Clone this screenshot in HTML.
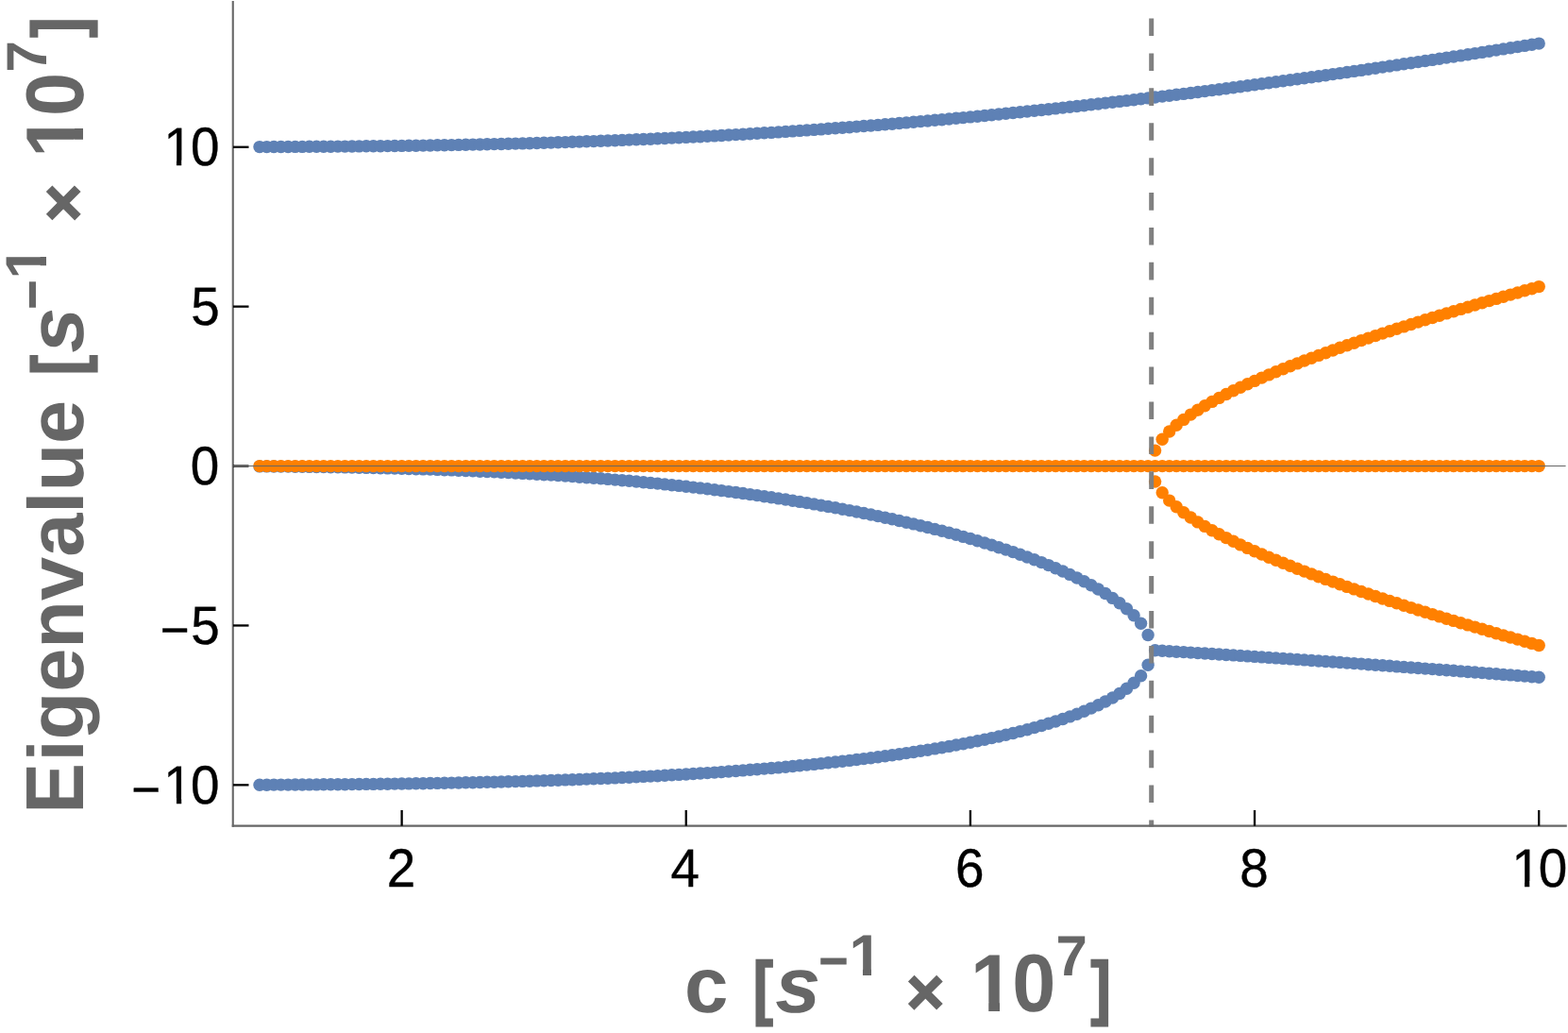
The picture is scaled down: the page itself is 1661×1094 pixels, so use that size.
<!DOCTYPE html>
<html lang="en">
<head>
<meta charset="utf-8">
<title>Eigenvalue plot</title>
<style>
html,body{margin:0;padding:0;background:#fff;}
body{width:1661px;height:1094px;overflow:hidden;}
svg{display:block;}
text{white-space:pre;text-rendering:geometricPrecision;}
</style>
</head>
<body>
<svg width="1661" height="1094" viewBox="0 0 1661 1094" role="img" aria-label="Eigenvalue [s−1 × 10^7] versus c [s−1 × 10^7]">
<rect width="1661" height="1094" fill="#ffffff"/>
<defs>
<clipPath id="k1"><rect x="-400" y="-200" width="1200" height="194.73"/><rect x="14.18" y="-6.27" width="5.46" height="11.27"/><rect x="31.52" y="-6.27" width="28.34" height="46.27"/></clipPath>
<clipPath id="k2"><rect x="-400" y="-200" width="1200" height="194.73"/><rect x="49.82" y="-6.27" width="5.46" height="11.27"/><rect x="67.16" y="-6.27" width="28.34" height="46.27"/></clipPath>
<clipPath id="k3"><rect x="-400" y="-200" width="1200" height="194.73"/><rect x="14.18" y="-6.27" width="5.46" height="11.27"/><rect x="31.42" y="-6.27" width="28.34" height="46.27"/></clipPath>
<clipPath id="k4"><rect x="-400" y="-200" width="1200" height="192.88"/><rect x="13.8" y="-8.12" width="8.63" height="13.12"/></clipPath>
<clipPath id="k5"><rect x="-400" y="-200" width="1200" height="190.16"/><rect x="20.01" y="-10.84" width="12.28" height="15.84"/><rect x="48.98" y="-10.84" width="42.19" height="50.84"/></clipPath>
<clipPath id="k6"><rect x="-400" y="-200" width="1200" height="192.88"/><rect x="13.8" y="-8.12" width="8.63" height="13.12"/></clipPath>
<clipPath id="k7"><rect x="-400" y="-200" width="1200" height="190.16"/><rect x="20.01" y="-10.84" width="12.28" height="15.84"/><rect x="48.98" y="-10.84" width="42.19" height="50.84"/></clipPath>
</defs>
<g fill="#5E81B5">
<circle cx="275.0" cy="155.6" r="6.7"/>
<circle cx="275.0" cy="831.2" r="6.7"/>
<circle cx="275.0" cy="493.9" r="6.7"/>
<circle cx="282.6" cy="155.6" r="6.7"/>
<circle cx="282.6" cy="831.2" r="6.7"/>
<circle cx="282.6" cy="493.9" r="6.7"/>
<circle cx="290.1" cy="155.5" r="6.7"/>
<circle cx="290.1" cy="831.1" r="6.7"/>
<circle cx="290.1" cy="494.0" r="6.7"/>
<circle cx="297.6" cy="155.5" r="6.7"/>
<circle cx="297.6" cy="831.1" r="6.7"/>
<circle cx="297.6" cy="494.1" r="6.7"/>
<circle cx="305.2" cy="155.5" r="6.7"/>
<circle cx="305.2" cy="831.1" r="6.7"/>
<circle cx="305.2" cy="494.1" r="6.7"/>
<circle cx="312.7" cy="155.4" r="6.7"/>
<circle cx="312.7" cy="831.0" r="6.7"/>
<circle cx="312.7" cy="494.2" r="6.7"/>
<circle cx="320.2" cy="155.4" r="6.7"/>
<circle cx="320.2" cy="831.0" r="6.7"/>
<circle cx="320.2" cy="494.3" r="6.7"/>
<circle cx="327.7" cy="155.3" r="6.7"/>
<circle cx="327.7" cy="830.9" r="6.7"/>
<circle cx="327.7" cy="494.4" r="6.7"/>
<circle cx="335.3" cy="155.3" r="6.7"/>
<circle cx="335.3" cy="830.9" r="6.7"/>
<circle cx="335.3" cy="494.5" r="6.7"/>
<circle cx="342.8" cy="155.2" r="6.7"/>
<circle cx="342.8" cy="830.8" r="6.7"/>
<circle cx="342.8" cy="494.6" r="6.7"/>
<circle cx="350.3" cy="155.2" r="6.7"/>
<circle cx="350.3" cy="830.8" r="6.7"/>
<circle cx="350.3" cy="494.7" r="6.7"/>
<circle cx="357.9" cy="155.1" r="6.7"/>
<circle cx="357.9" cy="830.7" r="6.7"/>
<circle cx="357.9" cy="494.8" r="6.7"/>
<circle cx="365.4" cy="155.1" r="6.7"/>
<circle cx="365.4" cy="830.7" r="6.7"/>
<circle cx="365.4" cy="494.9" r="6.7"/>
<circle cx="372.9" cy="155.0" r="6.7"/>
<circle cx="372.9" cy="830.6" r="6.7"/>
<circle cx="372.9" cy="495.1" r="6.7"/>
<circle cx="380.4" cy="154.9" r="6.7"/>
<circle cx="380.4" cy="830.5" r="6.7"/>
<circle cx="380.4" cy="495.2" r="6.7"/>
<circle cx="388.0" cy="154.8" r="6.7"/>
<circle cx="388.0" cy="830.4" r="6.7"/>
<circle cx="388.0" cy="495.4" r="6.7"/>
<circle cx="395.5" cy="154.8" r="6.7"/>
<circle cx="395.5" cy="830.4" r="6.7"/>
<circle cx="395.5" cy="495.5" r="6.7"/>
<circle cx="403.0" cy="154.7" r="6.7"/>
<circle cx="403.0" cy="830.3" r="6.7"/>
<circle cx="403.0" cy="495.7" r="6.7"/>
<circle cx="410.6" cy="154.6" r="6.7"/>
<circle cx="410.6" cy="830.2" r="6.7"/>
<circle cx="410.6" cy="495.9" r="6.7"/>
<circle cx="418.1" cy="154.5" r="6.7"/>
<circle cx="418.1" cy="830.1" r="6.7"/>
<circle cx="418.1" cy="496.1" r="6.7"/>
<circle cx="425.6" cy="154.4" r="6.7"/>
<circle cx="425.6" cy="830.0" r="6.7"/>
<circle cx="425.6" cy="496.3" r="6.7"/>
<circle cx="433.1" cy="154.3" r="6.7"/>
<circle cx="433.1" cy="829.9" r="6.7"/>
<circle cx="433.1" cy="496.5" r="6.7"/>
<circle cx="440.7" cy="154.2" r="6.7"/>
<circle cx="440.7" cy="829.8" r="6.7"/>
<circle cx="440.7" cy="496.7" r="6.7"/>
<circle cx="448.2" cy="154.1" r="6.7"/>
<circle cx="448.2" cy="829.7" r="6.7"/>
<circle cx="448.2" cy="496.9" r="6.7"/>
<circle cx="455.7" cy="154.0" r="6.7"/>
<circle cx="455.7" cy="829.5" r="6.7"/>
<circle cx="455.7" cy="497.1" r="6.7"/>
<circle cx="463.3" cy="153.8" r="6.7"/>
<circle cx="463.3" cy="829.4" r="6.7"/>
<circle cx="463.3" cy="497.4" r="6.7"/>
<circle cx="470.8" cy="153.7" r="6.7"/>
<circle cx="470.8" cy="829.3" r="6.7"/>
<circle cx="470.8" cy="497.7" r="6.7"/>
<circle cx="478.3" cy="153.6" r="6.7"/>
<circle cx="478.3" cy="829.1" r="6.7"/>
<circle cx="478.3" cy="497.9" r="6.7"/>
<circle cx="485.8" cy="153.4" r="6.7"/>
<circle cx="485.8" cy="829.0" r="6.7"/>
<circle cx="485.8" cy="498.2" r="6.7"/>
<circle cx="493.4" cy="153.3" r="6.7"/>
<circle cx="493.4" cy="828.8" r="6.7"/>
<circle cx="493.4" cy="498.5" r="6.7"/>
<circle cx="500.9" cy="153.1" r="6.7"/>
<circle cx="500.9" cy="828.7" r="6.7"/>
<circle cx="500.9" cy="498.8" r="6.7"/>
<circle cx="508.4" cy="153.0" r="6.7"/>
<circle cx="508.4" cy="828.5" r="6.7"/>
<circle cx="508.4" cy="499.2" r="6.7"/>
<circle cx="516.0" cy="152.8" r="6.7"/>
<circle cx="516.0" cy="828.3" r="6.7"/>
<circle cx="516.0" cy="499.5" r="6.7"/>
<circle cx="523.5" cy="152.6" r="6.7"/>
<circle cx="523.5" cy="828.2" r="6.7"/>
<circle cx="523.5" cy="499.8" r="6.7"/>
<circle cx="531.0" cy="152.5" r="6.7"/>
<circle cx="531.0" cy="828.0" r="6.7"/>
<circle cx="531.0" cy="500.2" r="6.7"/>
<circle cx="538.5" cy="152.3" r="6.7"/>
<circle cx="538.5" cy="827.8" r="6.7"/>
<circle cx="538.5" cy="500.6" r="6.7"/>
<circle cx="546.1" cy="152.1" r="6.7"/>
<circle cx="546.1" cy="827.6" r="6.7"/>
<circle cx="546.1" cy="501.0" r="6.7"/>
<circle cx="553.6" cy="151.9" r="6.7"/>
<circle cx="553.6" cy="827.4" r="6.7"/>
<circle cx="553.6" cy="501.4" r="6.7"/>
<circle cx="561.1" cy="151.7" r="6.7"/>
<circle cx="561.1" cy="827.2" r="6.7"/>
<circle cx="561.1" cy="501.8" r="6.7"/>
<circle cx="568.7" cy="151.5" r="6.7"/>
<circle cx="568.7" cy="826.9" r="6.7"/>
<circle cx="568.7" cy="502.2" r="6.7"/>
<circle cx="576.2" cy="151.3" r="6.7"/>
<circle cx="576.2" cy="826.7" r="6.7"/>
<circle cx="576.2" cy="502.7" r="6.7"/>
<circle cx="583.7" cy="151.1" r="6.7"/>
<circle cx="583.7" cy="826.5" r="6.7"/>
<circle cx="583.7" cy="503.1" r="6.7"/>
<circle cx="591.2" cy="150.8" r="6.7"/>
<circle cx="591.2" cy="826.2" r="6.7"/>
<circle cx="591.2" cy="503.6" r="6.7"/>
<circle cx="598.8" cy="150.6" r="6.7"/>
<circle cx="598.8" cy="825.9" r="6.7"/>
<circle cx="598.8" cy="504.1" r="6.7"/>
<circle cx="606.3" cy="150.3" r="6.7"/>
<circle cx="606.3" cy="825.7" r="6.7"/>
<circle cx="606.3" cy="504.6" r="6.7"/>
<circle cx="613.8" cy="150.1" r="6.7"/>
<circle cx="613.8" cy="825.4" r="6.7"/>
<circle cx="613.8" cy="505.2" r="6.7"/>
<circle cx="621.4" cy="149.8" r="6.7"/>
<circle cx="621.4" cy="825.1" r="6.7"/>
<circle cx="621.4" cy="505.7" r="6.7"/>
<circle cx="628.9" cy="149.6" r="6.7"/>
<circle cx="628.9" cy="824.8" r="6.7"/>
<circle cx="628.9" cy="506.3" r="6.7"/>
<circle cx="636.4" cy="149.3" r="6.7"/>
<circle cx="636.4" cy="824.5" r="6.7"/>
<circle cx="636.4" cy="506.8" r="6.7"/>
<circle cx="643.9" cy="149.0" r="6.7"/>
<circle cx="643.9" cy="824.2" r="6.7"/>
<circle cx="643.9" cy="507.4" r="6.7"/>
<circle cx="651.5" cy="148.7" r="6.7"/>
<circle cx="651.5" cy="823.9" r="6.7"/>
<circle cx="651.5" cy="508.1" r="6.7"/>
<circle cx="659.0" cy="148.4" r="6.7"/>
<circle cx="659.0" cy="823.5" r="6.7"/>
<circle cx="659.0" cy="508.7" r="6.7"/>
<circle cx="666.5" cy="148.1" r="6.7"/>
<circle cx="666.5" cy="823.2" r="6.7"/>
<circle cx="666.5" cy="509.3" r="6.7"/>
<circle cx="674.1" cy="147.8" r="6.7"/>
<circle cx="674.1" cy="822.8" r="6.7"/>
<circle cx="674.1" cy="510.0" r="6.7"/>
<circle cx="681.6" cy="147.5" r="6.7"/>
<circle cx="681.6" cy="822.4" r="6.7"/>
<circle cx="681.6" cy="510.7" r="6.7"/>
<circle cx="689.1" cy="147.2" r="6.7"/>
<circle cx="689.1" cy="822.1" r="6.7"/>
<circle cx="689.1" cy="511.4" r="6.7"/>
<circle cx="696.6" cy="146.8" r="6.7"/>
<circle cx="696.6" cy="821.7" r="6.7"/>
<circle cx="696.6" cy="512.1" r="6.7"/>
<circle cx="704.2" cy="146.5" r="6.7"/>
<circle cx="704.2" cy="821.3" r="6.7"/>
<circle cx="704.2" cy="512.9" r="6.7"/>
<circle cx="711.7" cy="146.1" r="6.7"/>
<circle cx="711.7" cy="820.8" r="6.7"/>
<circle cx="711.7" cy="513.7" r="6.7"/>
<circle cx="719.2" cy="145.8" r="6.7"/>
<circle cx="719.2" cy="820.4" r="6.7"/>
<circle cx="719.2" cy="514.4" r="6.7"/>
<circle cx="726.8" cy="145.4" r="6.7"/>
<circle cx="726.8" cy="820.0" r="6.7"/>
<circle cx="726.8" cy="515.3" r="6.7"/>
<circle cx="734.3" cy="145.0" r="6.7"/>
<circle cx="734.3" cy="819.5" r="6.7"/>
<circle cx="734.3" cy="516.1" r="6.7"/>
<circle cx="741.8" cy="144.7" r="6.7"/>
<circle cx="741.8" cy="819.0" r="6.7"/>
<circle cx="741.8" cy="516.9" r="6.7"/>
<circle cx="749.3" cy="144.3" r="6.7"/>
<circle cx="749.3" cy="818.6" r="6.7"/>
<circle cx="749.3" cy="517.8" r="6.7"/>
<circle cx="756.9" cy="143.9" r="6.7"/>
<circle cx="756.9" cy="818.1" r="6.7"/>
<circle cx="756.9" cy="518.7" r="6.7"/>
<circle cx="764.4" cy="143.5" r="6.7"/>
<circle cx="764.4" cy="817.6" r="6.7"/>
<circle cx="764.4" cy="519.6" r="6.7"/>
<circle cx="771.9" cy="143.0" r="6.7"/>
<circle cx="771.9" cy="817.0" r="6.7"/>
<circle cx="771.9" cy="520.6" r="6.7"/>
<circle cx="779.5" cy="142.6" r="6.7"/>
<circle cx="779.5" cy="816.5" r="6.7"/>
<circle cx="779.5" cy="521.5" r="6.7"/>
<circle cx="787.0" cy="142.2" r="6.7"/>
<circle cx="787.0" cy="815.9" r="6.7"/>
<circle cx="787.0" cy="522.5" r="6.7"/>
<circle cx="794.5" cy="141.7" r="6.7"/>
<circle cx="794.5" cy="815.3" r="6.7"/>
<circle cx="794.5" cy="523.6" r="6.7"/>
<circle cx="802.0" cy="141.3" r="6.7"/>
<circle cx="802.0" cy="814.8" r="6.7"/>
<circle cx="802.0" cy="524.6" r="6.7"/>
<circle cx="809.6" cy="140.8" r="6.7"/>
<circle cx="809.6" cy="814.1" r="6.7"/>
<circle cx="809.6" cy="525.7" r="6.7"/>
<circle cx="817.1" cy="140.4" r="6.7"/>
<circle cx="817.1" cy="813.5" r="6.7"/>
<circle cx="817.1" cy="526.8" r="6.7"/>
<circle cx="824.6" cy="139.9" r="6.7"/>
<circle cx="824.6" cy="812.9" r="6.7"/>
<circle cx="824.6" cy="527.9" r="6.7"/>
<circle cx="832.2" cy="139.4" r="6.7"/>
<circle cx="832.2" cy="812.2" r="6.7"/>
<circle cx="832.2" cy="529.0" r="6.7"/>
<circle cx="839.7" cy="138.9" r="6.7"/>
<circle cx="839.7" cy="811.5" r="6.7"/>
<circle cx="839.7" cy="530.2" r="6.7"/>
<circle cx="847.2" cy="138.4" r="6.7"/>
<circle cx="847.2" cy="810.8" r="6.7"/>
<circle cx="847.2" cy="531.4" r="6.7"/>
<circle cx="854.7" cy="137.9" r="6.7"/>
<circle cx="854.7" cy="810.1" r="6.7"/>
<circle cx="854.7" cy="532.6" r="6.7"/>
<circle cx="862.3" cy="137.4" r="6.7"/>
<circle cx="862.3" cy="809.4" r="6.7"/>
<circle cx="862.3" cy="533.9" r="6.7"/>
<circle cx="869.8" cy="136.9" r="6.7"/>
<circle cx="869.8" cy="808.6" r="6.7"/>
<circle cx="869.8" cy="535.2" r="6.7"/>
<circle cx="877.3" cy="136.3" r="6.7"/>
<circle cx="877.3" cy="807.8" r="6.7"/>
<circle cx="877.3" cy="536.5" r="6.7"/>
<circle cx="884.9" cy="135.8" r="6.7"/>
<circle cx="884.9" cy="807.0" r="6.7"/>
<circle cx="884.9" cy="537.8" r="6.7"/>
<circle cx="892.4" cy="135.2" r="6.7"/>
<circle cx="892.4" cy="806.2" r="6.7"/>
<circle cx="892.4" cy="539.2" r="6.7"/>
<circle cx="899.9" cy="134.7" r="6.7"/>
<circle cx="899.9" cy="805.4" r="6.7"/>
<circle cx="899.9" cy="540.6" r="6.7"/>
<circle cx="907.4" cy="134.1" r="6.7"/>
<circle cx="907.4" cy="804.5" r="6.7"/>
<circle cx="907.4" cy="542.0" r="6.7"/>
<circle cx="915.0" cy="133.5" r="6.7"/>
<circle cx="915.0" cy="803.6" r="6.7"/>
<circle cx="915.0" cy="543.5" r="6.7"/>
<circle cx="922.5" cy="133.0" r="6.7"/>
<circle cx="922.5" cy="802.7" r="6.7"/>
<circle cx="922.5" cy="545.0" r="6.7"/>
<circle cx="930.0" cy="132.4" r="6.7"/>
<circle cx="930.0" cy="801.7" r="6.7"/>
<circle cx="930.0" cy="546.6" r="6.7"/>
<circle cx="937.6" cy="131.8" r="6.7"/>
<circle cx="937.6" cy="800.7" r="6.7"/>
<circle cx="937.6" cy="548.2" r="6.7"/>
<circle cx="945.1" cy="131.2" r="6.7"/>
<circle cx="945.1" cy="799.7" r="6.7"/>
<circle cx="945.1" cy="549.8" r="6.7"/>
<circle cx="952.6" cy="130.5" r="6.7"/>
<circle cx="952.6" cy="798.7" r="6.7"/>
<circle cx="952.6" cy="551.5" r="6.7"/>
<circle cx="960.1" cy="129.9" r="6.7"/>
<circle cx="960.1" cy="797.6" r="6.7"/>
<circle cx="960.1" cy="553.2" r="6.7"/>
<circle cx="967.7" cy="129.3" r="6.7"/>
<circle cx="967.7" cy="796.5" r="6.7"/>
<circle cx="967.7" cy="554.9" r="6.7"/>
<circle cx="975.2" cy="128.6" r="6.7"/>
<circle cx="975.2" cy="795.3" r="6.7"/>
<circle cx="975.2" cy="556.7" r="6.7"/>
<circle cx="982.7" cy="128.0" r="6.7"/>
<circle cx="982.7" cy="794.2" r="6.7"/>
<circle cx="982.7" cy="558.5" r="6.7"/>
<circle cx="990.3" cy="127.3" r="6.7"/>
<circle cx="990.3" cy="792.9" r="6.7"/>
<circle cx="990.3" cy="560.4" r="6.7"/>
<circle cx="997.8" cy="126.7" r="6.7"/>
<circle cx="997.8" cy="791.7" r="6.7"/>
<circle cx="997.8" cy="562.3" r="6.7"/>
<circle cx="1005.3" cy="126.0" r="6.7"/>
<circle cx="1005.3" cy="790.4" r="6.7"/>
<circle cx="1005.3" cy="564.3" r="6.7"/>
<circle cx="1012.8" cy="125.3" r="6.7"/>
<circle cx="1012.8" cy="789.0" r="6.7"/>
<circle cx="1012.8" cy="566.3" r="6.7"/>
<circle cx="1020.4" cy="124.6" r="6.7"/>
<circle cx="1020.4" cy="787.7" r="6.7"/>
<circle cx="1020.4" cy="568.4" r="6.7"/>
<circle cx="1027.9" cy="123.9" r="6.7"/>
<circle cx="1027.9" cy="786.2" r="6.7"/>
<circle cx="1027.9" cy="570.5" r="6.7"/>
<circle cx="1035.4" cy="123.2" r="6.7"/>
<circle cx="1035.4" cy="784.7" r="6.7"/>
<circle cx="1035.4" cy="572.7" r="6.7"/>
<circle cx="1043.0" cy="122.5" r="6.7"/>
<circle cx="1043.0" cy="783.2" r="6.7"/>
<circle cx="1043.0" cy="575.0" r="6.7"/>
<circle cx="1050.5" cy="121.8" r="6.7"/>
<circle cx="1050.5" cy="781.6" r="6.7"/>
<circle cx="1050.5" cy="577.3" r="6.7"/>
<circle cx="1058.0" cy="121.0" r="6.7"/>
<circle cx="1058.0" cy="780.0" r="6.7"/>
<circle cx="1058.0" cy="579.7" r="6.7"/>
<circle cx="1065.5" cy="120.3" r="6.7"/>
<circle cx="1065.5" cy="778.3" r="6.7"/>
<circle cx="1065.5" cy="582.1" r="6.7"/>
<circle cx="1073.1" cy="119.5" r="6.7"/>
<circle cx="1073.1" cy="776.5" r="6.7"/>
<circle cx="1073.1" cy="584.6" r="6.7"/>
<circle cx="1080.6" cy="118.8" r="6.7"/>
<circle cx="1080.6" cy="774.6" r="6.7"/>
<circle cx="1080.6" cy="587.3" r="6.7"/>
<circle cx="1088.1" cy="118.0" r="6.7"/>
<circle cx="1088.1" cy="772.7" r="6.7"/>
<circle cx="1088.1" cy="590.0" r="6.7"/>
<circle cx="1095.7" cy="117.3" r="6.7"/>
<circle cx="1095.7" cy="770.6" r="6.7"/>
<circle cx="1095.7" cy="592.7" r="6.7"/>
<circle cx="1103.2" cy="116.5" r="6.7"/>
<circle cx="1103.2" cy="768.5" r="6.7"/>
<circle cx="1103.2" cy="595.6" r="6.7"/>
<circle cx="1110.7" cy="115.7" r="6.7"/>
<circle cx="1110.7" cy="766.3" r="6.7"/>
<circle cx="1110.7" cy="598.6" r="6.7"/>
<circle cx="1118.2" cy="114.9" r="6.7"/>
<circle cx="1118.2" cy="764.0" r="6.7"/>
<circle cx="1118.2" cy="601.8" r="6.7"/>
<circle cx="1125.8" cy="114.1" r="6.7"/>
<circle cx="1125.8" cy="761.5" r="6.7"/>
<circle cx="1125.8" cy="605.0" r="6.7"/>
<circle cx="1133.3" cy="113.3" r="6.7"/>
<circle cx="1133.3" cy="758.9" r="6.7"/>
<circle cx="1133.3" cy="608.4" r="6.7"/>
<circle cx="1140.8" cy="112.5" r="6.7"/>
<circle cx="1140.8" cy="756.2" r="6.7"/>
<circle cx="1140.8" cy="612.0" r="6.7"/>
<circle cx="1148.4" cy="111.7" r="6.7"/>
<circle cx="1148.4" cy="753.2" r="6.7"/>
<circle cx="1148.4" cy="615.8" r="6.7"/>
<circle cx="1155.9" cy="110.8" r="6.7"/>
<circle cx="1155.9" cy="750.1" r="6.7"/>
<circle cx="1155.9" cy="619.7" r="6.7"/>
<circle cx="1163.4" cy="110.0" r="6.7"/>
<circle cx="1163.4" cy="746.7" r="6.7"/>
<circle cx="1163.4" cy="624.0" r="6.7"/>
<circle cx="1170.9" cy="109.1" r="6.7"/>
<circle cx="1170.9" cy="743.0" r="6.7"/>
<circle cx="1170.9" cy="628.5" r="6.7"/>
<circle cx="1178.5" cy="108.3" r="6.7"/>
<circle cx="1178.5" cy="739.0" r="6.7"/>
<circle cx="1178.5" cy="633.4" r="6.7"/>
<circle cx="1186.0" cy="107.4" r="6.7"/>
<circle cx="1186.0" cy="734.5" r="6.7"/>
<circle cx="1186.0" cy="638.7" r="6.7"/>
<circle cx="1193.5" cy="106.6" r="6.7"/>
<circle cx="1193.5" cy="729.3" r="6.7"/>
<circle cx="1193.5" cy="644.7" r="6.7"/>
<circle cx="1201.1" cy="105.7" r="6.7"/>
<circle cx="1201.1" cy="723.3" r="6.7"/>
<circle cx="1201.1" cy="651.7" r="6.7"/>
<circle cx="1208.6" cy="104.8" r="6.7"/>
<circle cx="1208.6" cy="715.7" r="6.7"/>
<circle cx="1208.6" cy="660.2" r="6.7"/>
<circle cx="1216.1" cy="103.9" r="6.7"/>
<circle cx="1216.1" cy="704.2" r="6.7"/>
<circle cx="1216.1" cy="672.5" r="6.7"/>
<circle cx="1223.6" cy="103.0" r="6.7"/>
<circle cx="1223.6" cy="688.8" r="6.7"/>
<circle cx="1231.2" cy="102.1" r="6.7"/>
<circle cx="1231.2" cy="689.3" r="6.7"/>
<circle cx="1238.7" cy="101.2" r="6.7"/>
<circle cx="1238.7" cy="689.7" r="6.7"/>
<circle cx="1246.2" cy="100.3" r="6.7"/>
<circle cx="1246.2" cy="690.2" r="6.7"/>
<circle cx="1253.8" cy="99.4" r="6.7"/>
<circle cx="1253.8" cy="690.6" r="6.7"/>
<circle cx="1261.3" cy="98.5" r="6.7"/>
<circle cx="1261.3" cy="691.1" r="6.7"/>
<circle cx="1268.8" cy="97.5" r="6.7"/>
<circle cx="1268.8" cy="691.6" r="6.7"/>
<circle cx="1276.3" cy="96.6" r="6.7"/>
<circle cx="1276.3" cy="692.0" r="6.7"/>
<circle cx="1283.9" cy="95.6" r="6.7"/>
<circle cx="1283.9" cy="692.5" r="6.7"/>
<circle cx="1291.4" cy="94.7" r="6.7"/>
<circle cx="1291.4" cy="693.0" r="6.7"/>
<circle cx="1298.9" cy="93.7" r="6.7"/>
<circle cx="1298.9" cy="693.5" r="6.7"/>
<circle cx="1306.5" cy="92.8" r="6.7"/>
<circle cx="1306.5" cy="693.9" r="6.7"/>
<circle cx="1314.0" cy="91.8" r="6.7"/>
<circle cx="1314.0" cy="694.4" r="6.7"/>
<circle cx="1321.5" cy="90.8" r="6.7"/>
<circle cx="1321.5" cy="694.9" r="6.7"/>
<circle cx="1329.0" cy="89.8" r="6.7"/>
<circle cx="1329.0" cy="695.4" r="6.7"/>
<circle cx="1336.6" cy="88.8" r="6.7"/>
<circle cx="1336.6" cy="695.9" r="6.7"/>
<circle cx="1344.1" cy="87.8" r="6.7"/>
<circle cx="1344.1" cy="696.4" r="6.7"/>
<circle cx="1351.6" cy="86.8" r="6.7"/>
<circle cx="1351.6" cy="696.9" r="6.7"/>
<circle cx="1359.2" cy="85.8" r="6.7"/>
<circle cx="1359.2" cy="697.4" r="6.7"/>
<circle cx="1366.7" cy="84.8" r="6.7"/>
<circle cx="1366.7" cy="697.9" r="6.7"/>
<circle cx="1374.2" cy="83.8" r="6.7"/>
<circle cx="1374.2" cy="698.4" r="6.7"/>
<circle cx="1381.7" cy="82.8" r="6.7"/>
<circle cx="1381.7" cy="698.9" r="6.7"/>
<circle cx="1389.3" cy="81.7" r="6.7"/>
<circle cx="1389.3" cy="699.5" r="6.7"/>
<circle cx="1396.8" cy="80.7" r="6.7"/>
<circle cx="1396.8" cy="700.0" r="6.7"/>
<circle cx="1404.3" cy="79.7" r="6.7"/>
<circle cx="1404.3" cy="700.5" r="6.7"/>
<circle cx="1411.9" cy="78.6" r="6.7"/>
<circle cx="1411.9" cy="701.0" r="6.7"/>
<circle cx="1419.4" cy="77.6" r="6.7"/>
<circle cx="1419.4" cy="701.5" r="6.7"/>
<circle cx="1426.9" cy="76.5" r="6.7"/>
<circle cx="1426.9" cy="702.1" r="6.7"/>
<circle cx="1434.4" cy="75.4" r="6.7"/>
<circle cx="1434.4" cy="702.6" r="6.7"/>
<circle cx="1442.0" cy="74.4" r="6.7"/>
<circle cx="1442.0" cy="703.1" r="6.7"/>
<circle cx="1449.5" cy="73.3" r="6.7"/>
<circle cx="1449.5" cy="703.7" r="6.7"/>
<circle cx="1457.0" cy="72.2" r="6.7"/>
<circle cx="1457.0" cy="704.2" r="6.7"/>
<circle cx="1464.6" cy="71.1" r="6.7"/>
<circle cx="1464.6" cy="704.8" r="6.7"/>
<circle cx="1472.1" cy="70.0" r="6.7"/>
<circle cx="1472.1" cy="705.3" r="6.7"/>
<circle cx="1479.6" cy="68.9" r="6.7"/>
<circle cx="1479.6" cy="705.9" r="6.7"/>
<circle cx="1487.1" cy="67.8" r="6.7"/>
<circle cx="1487.1" cy="706.4" r="6.7"/>
<circle cx="1494.7" cy="66.7" r="6.7"/>
<circle cx="1494.7" cy="707.0" r="6.7"/>
<circle cx="1502.2" cy="65.6" r="6.7"/>
<circle cx="1502.2" cy="707.5" r="6.7"/>
<circle cx="1509.7" cy="64.5" r="6.7"/>
<circle cx="1509.7" cy="708.1" r="6.7"/>
<circle cx="1517.3" cy="63.4" r="6.7"/>
<circle cx="1517.3" cy="708.6" r="6.7"/>
<circle cx="1524.8" cy="62.3" r="6.7"/>
<circle cx="1524.8" cy="709.2" r="6.7"/>
<circle cx="1532.3" cy="61.1" r="6.7"/>
<circle cx="1532.3" cy="709.8" r="6.7"/>
<circle cx="1539.8" cy="60.0" r="6.7"/>
<circle cx="1539.8" cy="710.3" r="6.7"/>
<circle cx="1547.4" cy="58.9" r="6.7"/>
<circle cx="1547.4" cy="710.9" r="6.7"/>
<circle cx="1554.9" cy="57.7" r="6.7"/>
<circle cx="1554.9" cy="711.5" r="6.7"/>
<circle cx="1562.4" cy="56.6" r="6.7"/>
<circle cx="1562.4" cy="712.0" r="6.7"/>
<circle cx="1570.0" cy="55.4" r="6.7"/>
<circle cx="1570.0" cy="712.6" r="6.7"/>
<circle cx="1577.5" cy="54.3" r="6.7"/>
<circle cx="1577.5" cy="713.2" r="6.7"/>
<circle cx="1585.0" cy="53.1" r="6.7"/>
<circle cx="1585.0" cy="713.8" r="6.7"/>
<circle cx="1592.5" cy="51.9" r="6.7"/>
<circle cx="1592.5" cy="714.4" r="6.7"/>
<circle cx="1600.1" cy="50.8" r="6.7"/>
<circle cx="1600.1" cy="714.9" r="6.7"/>
<circle cx="1607.6" cy="49.6" r="6.7"/>
<circle cx="1607.6" cy="715.5" r="6.7"/>
<circle cx="1615.1" cy="48.4" r="6.7"/>
<circle cx="1615.1" cy="716.1" r="6.7"/>
<circle cx="1622.7" cy="47.2" r="6.7"/>
<circle cx="1622.7" cy="716.7" r="6.7"/>
<circle cx="1630.2" cy="46.1" r="6.7"/>
<circle cx="1630.2" cy="717.3" r="6.7"/>
</g>
<g fill="#FF8000">
<circle cx="275.0" cy="493.6" r="6.7"/>
<circle cx="282.6" cy="493.6" r="6.7"/>
<circle cx="290.1" cy="493.6" r="6.7"/>
<circle cx="297.6" cy="493.6" r="6.7"/>
<circle cx="305.2" cy="493.6" r="6.7"/>
<circle cx="312.7" cy="493.6" r="6.7"/>
<circle cx="320.2" cy="493.6" r="6.7"/>
<circle cx="327.7" cy="493.6" r="6.7"/>
<circle cx="335.3" cy="493.6" r="6.7"/>
<circle cx="342.8" cy="493.6" r="6.7"/>
<circle cx="350.3" cy="493.6" r="6.7"/>
<circle cx="357.9" cy="493.6" r="6.7"/>
<circle cx="365.4" cy="493.6" r="6.7"/>
<circle cx="372.9" cy="493.6" r="6.7"/>
<circle cx="380.4" cy="493.6" r="6.7"/>
<circle cx="388.0" cy="493.6" r="6.7"/>
<circle cx="395.5" cy="493.6" r="6.7"/>
<circle cx="403.0" cy="493.6" r="6.7"/>
<circle cx="410.6" cy="493.6" r="6.7"/>
<circle cx="418.1" cy="493.6" r="6.7"/>
<circle cx="425.6" cy="493.6" r="6.7"/>
<circle cx="433.1" cy="493.6" r="6.7"/>
<circle cx="440.7" cy="493.6" r="6.7"/>
<circle cx="448.2" cy="493.6" r="6.7"/>
<circle cx="455.7" cy="493.6" r="6.7"/>
<circle cx="463.3" cy="493.6" r="6.7"/>
<circle cx="470.8" cy="493.6" r="6.7"/>
<circle cx="478.3" cy="493.6" r="6.7"/>
<circle cx="485.8" cy="493.6" r="6.7"/>
<circle cx="493.4" cy="493.6" r="6.7"/>
<circle cx="500.9" cy="493.6" r="6.7"/>
<circle cx="508.4" cy="493.6" r="6.7"/>
<circle cx="516.0" cy="493.6" r="6.7"/>
<circle cx="523.5" cy="493.6" r="6.7"/>
<circle cx="531.0" cy="493.6" r="6.7"/>
<circle cx="538.5" cy="493.6" r="6.7"/>
<circle cx="546.1" cy="493.6" r="6.7"/>
<circle cx="553.6" cy="493.6" r="6.7"/>
<circle cx="561.1" cy="493.6" r="6.7"/>
<circle cx="568.7" cy="493.6" r="6.7"/>
<circle cx="576.2" cy="493.6" r="6.7"/>
<circle cx="583.7" cy="493.6" r="6.7"/>
<circle cx="591.2" cy="493.6" r="6.7"/>
<circle cx="598.8" cy="493.6" r="6.7"/>
<circle cx="606.3" cy="493.6" r="6.7"/>
<circle cx="613.8" cy="493.6" r="6.7"/>
<circle cx="621.4" cy="493.6" r="6.7"/>
<circle cx="628.9" cy="493.6" r="6.7"/>
<circle cx="636.4" cy="493.6" r="6.7"/>
<circle cx="643.9" cy="493.6" r="6.7"/>
<circle cx="651.5" cy="493.6" r="6.7"/>
<circle cx="659.0" cy="493.6" r="6.7"/>
<circle cx="666.5" cy="493.6" r="6.7"/>
<circle cx="674.1" cy="493.6" r="6.7"/>
<circle cx="681.6" cy="493.6" r="6.7"/>
<circle cx="689.1" cy="493.6" r="6.7"/>
<circle cx="696.6" cy="493.6" r="6.7"/>
<circle cx="704.2" cy="493.6" r="6.7"/>
<circle cx="711.7" cy="493.6" r="6.7"/>
<circle cx="719.2" cy="493.6" r="6.7"/>
<circle cx="726.8" cy="493.6" r="6.7"/>
<circle cx="734.3" cy="493.6" r="6.7"/>
<circle cx="741.8" cy="493.6" r="6.7"/>
<circle cx="749.3" cy="493.6" r="6.7"/>
<circle cx="756.9" cy="493.6" r="6.7"/>
<circle cx="764.4" cy="493.6" r="6.7"/>
<circle cx="771.9" cy="493.6" r="6.7"/>
<circle cx="779.5" cy="493.6" r="6.7"/>
<circle cx="787.0" cy="493.6" r="6.7"/>
<circle cx="794.5" cy="493.6" r="6.7"/>
<circle cx="802.0" cy="493.6" r="6.7"/>
<circle cx="809.6" cy="493.6" r="6.7"/>
<circle cx="817.1" cy="493.6" r="6.7"/>
<circle cx="824.6" cy="493.6" r="6.7"/>
<circle cx="832.2" cy="493.6" r="6.7"/>
<circle cx="839.7" cy="493.6" r="6.7"/>
<circle cx="847.2" cy="493.6" r="6.7"/>
<circle cx="854.7" cy="493.6" r="6.7"/>
<circle cx="862.3" cy="493.6" r="6.7"/>
<circle cx="869.8" cy="493.6" r="6.7"/>
<circle cx="877.3" cy="493.6" r="6.7"/>
<circle cx="884.9" cy="493.6" r="6.7"/>
<circle cx="892.4" cy="493.6" r="6.7"/>
<circle cx="899.9" cy="493.6" r="6.7"/>
<circle cx="907.4" cy="493.6" r="6.7"/>
<circle cx="915.0" cy="493.6" r="6.7"/>
<circle cx="922.5" cy="493.6" r="6.7"/>
<circle cx="930.0" cy="493.6" r="6.7"/>
<circle cx="937.6" cy="493.6" r="6.7"/>
<circle cx="945.1" cy="493.6" r="6.7"/>
<circle cx="952.6" cy="493.6" r="6.7"/>
<circle cx="960.1" cy="493.6" r="6.7"/>
<circle cx="967.7" cy="493.6" r="6.7"/>
<circle cx="975.2" cy="493.6" r="6.7"/>
<circle cx="982.7" cy="493.6" r="6.7"/>
<circle cx="990.3" cy="493.6" r="6.7"/>
<circle cx="997.8" cy="493.6" r="6.7"/>
<circle cx="1005.3" cy="493.6" r="6.7"/>
<circle cx="1012.8" cy="493.6" r="6.7"/>
<circle cx="1020.4" cy="493.6" r="6.7"/>
<circle cx="1027.9" cy="493.6" r="6.7"/>
<circle cx="1035.4" cy="493.6" r="6.7"/>
<circle cx="1043.0" cy="493.6" r="6.7"/>
<circle cx="1050.5" cy="493.6" r="6.7"/>
<circle cx="1058.0" cy="493.6" r="6.7"/>
<circle cx="1065.5" cy="493.6" r="6.7"/>
<circle cx="1073.1" cy="493.6" r="6.7"/>
<circle cx="1080.6" cy="493.6" r="6.7"/>
<circle cx="1088.1" cy="493.6" r="6.7"/>
<circle cx="1095.7" cy="493.6" r="6.7"/>
<circle cx="1103.2" cy="493.6" r="6.7"/>
<circle cx="1110.7" cy="493.6" r="6.7"/>
<circle cx="1118.2" cy="493.6" r="6.7"/>
<circle cx="1125.8" cy="493.6" r="6.7"/>
<circle cx="1133.3" cy="493.6" r="6.7"/>
<circle cx="1140.8" cy="493.6" r="6.7"/>
<circle cx="1148.4" cy="493.6" r="6.7"/>
<circle cx="1155.9" cy="493.6" r="6.7"/>
<circle cx="1163.4" cy="493.6" r="6.7"/>
<circle cx="1170.9" cy="493.6" r="6.7"/>
<circle cx="1178.5" cy="493.6" r="6.7"/>
<circle cx="1186.0" cy="493.6" r="6.7"/>
<circle cx="1193.5" cy="493.6" r="6.7"/>
<circle cx="1201.1" cy="493.6" r="6.7"/>
<circle cx="1208.6" cy="493.6" r="6.7"/>
<circle cx="1216.1" cy="493.6" r="6.7"/>
<circle cx="1223.6" cy="493.6" r="6.7"/>
<circle cx="1223.6" cy="477.1" r="6.7"/>
<circle cx="1223.6" cy="510.0" r="6.7"/>
<circle cx="1231.2" cy="493.6" r="6.7"/>
<circle cx="1231.2" cy="465.3" r="6.7"/>
<circle cx="1231.2" cy="521.8" r="6.7"/>
<circle cx="1238.7" cy="493.6" r="6.7"/>
<circle cx="1238.7" cy="457.0" r="6.7"/>
<circle cx="1238.7" cy="530.1" r="6.7"/>
<circle cx="1246.2" cy="493.6" r="6.7"/>
<circle cx="1246.2" cy="450.3" r="6.7"/>
<circle cx="1246.2" cy="536.8" r="6.7"/>
<circle cx="1253.8" cy="493.6" r="6.7"/>
<circle cx="1253.8" cy="444.4" r="6.7"/>
<circle cx="1253.8" cy="542.7" r="6.7"/>
<circle cx="1261.3" cy="493.6" r="6.7"/>
<circle cx="1261.3" cy="439.1" r="6.7"/>
<circle cx="1261.3" cy="548.0" r="6.7"/>
<circle cx="1268.8" cy="493.6" r="6.7"/>
<circle cx="1268.8" cy="434.2" r="6.7"/>
<circle cx="1268.8" cy="552.9" r="6.7"/>
<circle cx="1276.3" cy="493.6" r="6.7"/>
<circle cx="1276.3" cy="429.7" r="6.7"/>
<circle cx="1276.3" cy="557.4" r="6.7"/>
<circle cx="1283.9" cy="493.6" r="6.7"/>
<circle cx="1283.9" cy="425.4" r="6.7"/>
<circle cx="1283.9" cy="561.7" r="6.7"/>
<circle cx="1291.4" cy="493.6" r="6.7"/>
<circle cx="1291.4" cy="421.4" r="6.7"/>
<circle cx="1291.4" cy="565.7" r="6.7"/>
<circle cx="1298.9" cy="493.6" r="6.7"/>
<circle cx="1298.9" cy="417.5" r="6.7"/>
<circle cx="1298.9" cy="569.6" r="6.7"/>
<circle cx="1306.5" cy="493.6" r="6.7"/>
<circle cx="1306.5" cy="413.8" r="6.7"/>
<circle cx="1306.5" cy="573.3" r="6.7"/>
<circle cx="1314.0" cy="493.6" r="6.7"/>
<circle cx="1314.0" cy="410.2" r="6.7"/>
<circle cx="1314.0" cy="576.9" r="6.7"/>
<circle cx="1321.5" cy="493.6" r="6.7"/>
<circle cx="1321.5" cy="406.7" r="6.7"/>
<circle cx="1321.5" cy="580.4" r="6.7"/>
<circle cx="1329.0" cy="493.6" r="6.7"/>
<circle cx="1329.0" cy="403.4" r="6.7"/>
<circle cx="1329.0" cy="583.7" r="6.7"/>
<circle cx="1336.6" cy="493.6" r="6.7"/>
<circle cx="1336.6" cy="400.1" r="6.7"/>
<circle cx="1336.6" cy="587.0" r="6.7"/>
<circle cx="1344.1" cy="493.6" r="6.7"/>
<circle cx="1344.1" cy="396.9" r="6.7"/>
<circle cx="1344.1" cy="590.2" r="6.7"/>
<circle cx="1351.6" cy="493.6" r="6.7"/>
<circle cx="1351.6" cy="393.8" r="6.7"/>
<circle cx="1351.6" cy="593.3" r="6.7"/>
<circle cx="1359.2" cy="493.6" r="6.7"/>
<circle cx="1359.2" cy="390.8" r="6.7"/>
<circle cx="1359.2" cy="596.3" r="6.7"/>
<circle cx="1366.7" cy="493.6" r="6.7"/>
<circle cx="1366.7" cy="387.8" r="6.7"/>
<circle cx="1366.7" cy="599.3" r="6.7"/>
<circle cx="1374.2" cy="493.6" r="6.7"/>
<circle cx="1374.2" cy="384.9" r="6.7"/>
<circle cx="1374.2" cy="602.2" r="6.7"/>
<circle cx="1381.7" cy="493.6" r="6.7"/>
<circle cx="1381.7" cy="382.0" r="6.7"/>
<circle cx="1381.7" cy="605.1" r="6.7"/>
<circle cx="1389.3" cy="493.6" r="6.7"/>
<circle cx="1389.3" cy="379.2" r="6.7"/>
<circle cx="1389.3" cy="607.9" r="6.7"/>
<circle cx="1396.8" cy="493.6" r="6.7"/>
<circle cx="1396.8" cy="376.4" r="6.7"/>
<circle cx="1396.8" cy="610.7" r="6.7"/>
<circle cx="1404.3" cy="493.6" r="6.7"/>
<circle cx="1404.3" cy="373.7" r="6.7"/>
<circle cx="1404.3" cy="613.4" r="6.7"/>
<circle cx="1411.9" cy="493.6" r="6.7"/>
<circle cx="1411.9" cy="371.0" r="6.7"/>
<circle cx="1411.9" cy="616.1" r="6.7"/>
<circle cx="1419.4" cy="493.6" r="6.7"/>
<circle cx="1419.4" cy="368.3" r="6.7"/>
<circle cx="1419.4" cy="618.8" r="6.7"/>
<circle cx="1426.9" cy="493.6" r="6.7"/>
<circle cx="1426.9" cy="365.7" r="6.7"/>
<circle cx="1426.9" cy="621.4" r="6.7"/>
<circle cx="1434.4" cy="493.6" r="6.7"/>
<circle cx="1434.4" cy="363.2" r="6.7"/>
<circle cx="1434.4" cy="623.9" r="6.7"/>
<circle cx="1442.0" cy="493.6" r="6.7"/>
<circle cx="1442.0" cy="360.6" r="6.7"/>
<circle cx="1442.0" cy="626.5" r="6.7"/>
<circle cx="1449.5" cy="493.6" r="6.7"/>
<circle cx="1449.5" cy="358.1" r="6.7"/>
<circle cx="1449.5" cy="629.0" r="6.7"/>
<circle cx="1457.0" cy="493.6" r="6.7"/>
<circle cx="1457.0" cy="355.6" r="6.7"/>
<circle cx="1457.0" cy="631.5" r="6.7"/>
<circle cx="1464.6" cy="493.6" r="6.7"/>
<circle cx="1464.6" cy="353.1" r="6.7"/>
<circle cx="1464.6" cy="634.0" r="6.7"/>
<circle cx="1472.1" cy="493.6" r="6.7"/>
<circle cx="1472.1" cy="350.7" r="6.7"/>
<circle cx="1472.1" cy="636.4" r="6.7"/>
<circle cx="1479.6" cy="493.6" r="6.7"/>
<circle cx="1479.6" cy="348.3" r="6.7"/>
<circle cx="1479.6" cy="638.8" r="6.7"/>
<circle cx="1487.1" cy="493.6" r="6.7"/>
<circle cx="1487.1" cy="345.9" r="6.7"/>
<circle cx="1487.1" cy="641.2" r="6.7"/>
<circle cx="1494.7" cy="493.6" r="6.7"/>
<circle cx="1494.7" cy="343.5" r="6.7"/>
<circle cx="1494.7" cy="643.6" r="6.7"/>
<circle cx="1502.2" cy="493.6" r="6.7"/>
<circle cx="1502.2" cy="341.1" r="6.7"/>
<circle cx="1502.2" cy="646.0" r="6.7"/>
<circle cx="1509.7" cy="493.6" r="6.7"/>
<circle cx="1509.7" cy="338.8" r="6.7"/>
<circle cx="1509.7" cy="648.3" r="6.7"/>
<circle cx="1517.3" cy="493.6" r="6.7"/>
<circle cx="1517.3" cy="336.5" r="6.7"/>
<circle cx="1517.3" cy="650.6" r="6.7"/>
<circle cx="1524.8" cy="493.6" r="6.7"/>
<circle cx="1524.8" cy="334.2" r="6.7"/>
<circle cx="1524.8" cy="652.9" r="6.7"/>
<circle cx="1532.3" cy="493.6" r="6.7"/>
<circle cx="1532.3" cy="331.9" r="6.7"/>
<circle cx="1532.3" cy="655.2" r="6.7"/>
<circle cx="1539.8" cy="493.6" r="6.7"/>
<circle cx="1539.8" cy="329.7" r="6.7"/>
<circle cx="1539.8" cy="657.4" r="6.7"/>
<circle cx="1547.4" cy="493.6" r="6.7"/>
<circle cx="1547.4" cy="327.4" r="6.7"/>
<circle cx="1547.4" cy="659.7" r="6.7"/>
<circle cx="1554.9" cy="493.6" r="6.7"/>
<circle cx="1554.9" cy="325.2" r="6.7"/>
<circle cx="1554.9" cy="661.9" r="6.7"/>
<circle cx="1562.4" cy="493.6" r="6.7"/>
<circle cx="1562.4" cy="323.0" r="6.7"/>
<circle cx="1562.4" cy="664.1" r="6.7"/>
<circle cx="1570.0" cy="493.6" r="6.7"/>
<circle cx="1570.0" cy="320.8" r="6.7"/>
<circle cx="1570.0" cy="666.3" r="6.7"/>
<circle cx="1577.5" cy="493.6" r="6.7"/>
<circle cx="1577.5" cy="318.6" r="6.7"/>
<circle cx="1577.5" cy="668.5" r="6.7"/>
<circle cx="1585.0" cy="493.6" r="6.7"/>
<circle cx="1585.0" cy="316.4" r="6.7"/>
<circle cx="1585.0" cy="670.7" r="6.7"/>
<circle cx="1592.5" cy="493.6" r="6.7"/>
<circle cx="1592.5" cy="314.2" r="6.7"/>
<circle cx="1592.5" cy="672.9" r="6.7"/>
<circle cx="1600.1" cy="493.6" r="6.7"/>
<circle cx="1600.1" cy="312.1" r="6.7"/>
<circle cx="1600.1" cy="675.0" r="6.7"/>
<circle cx="1607.6" cy="493.6" r="6.7"/>
<circle cx="1607.6" cy="310.0" r="6.7"/>
<circle cx="1607.6" cy="677.1" r="6.7"/>
<circle cx="1615.1" cy="493.6" r="6.7"/>
<circle cx="1615.1" cy="307.8" r="6.7"/>
<circle cx="1615.1" cy="679.3" r="6.7"/>
<circle cx="1622.7" cy="493.6" r="6.7"/>
<circle cx="1622.7" cy="305.7" r="6.7"/>
<circle cx="1622.7" cy="681.4" r="6.7"/>
<circle cx="1630.2" cy="493.6" r="6.7"/>
<circle cx="1630.2" cy="303.6" r="6.7"/>
<circle cx="1630.2" cy="683.5" r="6.7"/>
</g>
<line x1="1219.7" y1="19.5" x2="1219.7" y2="875.6" stroke="#808080" stroke-width="5" stroke-dasharray="18.6 18.31"/>
<line x1="246.75" y1="1.1" x2="246.75" y2="875.8" stroke="#666666" stroke-width="2.1"/>
<line x1="245.7" y1="874.65" x2="1659.8" y2="874.65" stroke="#666666" stroke-width="2.3"/>
<g stroke="#000" stroke-width="2.3">
<line x1="247" y1="155.75" x2="263.5" y2="155.75"/>
<line x1="247" y1="324.65" x2="263.5" y2="324.65"/>
<line x1="247" y1="493.55" x2="263.5" y2="493.55"/>
<line x1="247" y1="662.45" x2="263.5" y2="662.45"/>
<line x1="247" y1="831.35" x2="263.5" y2="831.35"/>
<line x1="425.62" y1="858" x2="425.62" y2="874.7"/>
<line x1="726.76" y1="858" x2="726.76" y2="874.7"/>
<line x1="1027.90" y1="858" x2="1027.90" y2="874.7"/>
<line x1="1329.04" y1="858" x2="1329.04" y2="874.7"/>
<line x1="1630.18" y1="858" x2="1630.18" y2="874.7"/>
</g>
<line x1="247" y1="493.5" x2="1658.6" y2="493.5" stroke="#666666" stroke-width="1"/>
<g font-family="'Liberation Sans', Arial, Helvetica, sans-serif" font-size="57.2" fill="#000" stroke="#000" stroke-width="0.4">
<text transform="matrix(0.958 0 0 1 173.38 174.95)" x="0 29.79" y="0" clip-path="url(#k1)">10</text>
<text transform="matrix(0.958 0 0 1 202.32 343.85)" x="0" y="0">5</text>
<text transform="matrix(0.958 0 0 1 201.86 512.75)" x="0" y="0">0</text>
<text transform="matrix(0.958 0 0 1 169.84 681.65)" y="0"><tspan x="0" dy="4.6" font-size="55.2">−</tspan><tspan x="33.9" dy="-4.6">5</tspan></text>
<text transform="matrix(0.958 0 0 1 139.24 850.55)" y="0" clip-path="url(#k2)"><tspan x="0" dy="4.6" font-size="55.2">−</tspan><tspan x="35.64 65.42" dy="-4.6">10</tspan></text>
<text transform="matrix(0.958 0 0 1 409.71 938.5)" x="0" y="0">2</text>
<text transform="matrix(0.958 0 0 1 710.59 938.5)" x="0" y="0">4</text>
<text transform="matrix(0.958 0 0 1 1011.92 938.5)" x="0" y="0">6</text>
<text transform="matrix(0.958 0 0 1 1313.21 938.5)" x="0" y="0">8</text>
<text transform="matrix(0.958 0 0 1 1601.43 938.5)" x="0 29.68" y="0" clip-path="url(#k3)">10</text>
</g>
<g font-family="'Liberation Sans', Arial, Helvetica, sans-serif" fill="#666666">
<text x="725.04" y="1072" font-size="83.5" font-weight="bold">c </text>
<text transform="matrix(0.8244 0 0 0.9711 797.74 1070.78)" x="0" y="0" font-size="77" font-weight="bold" stroke="#666666" stroke-width="2" stroke-linejoin="miter" vector-effect="non-scaling-stroke">[</text>
<text transform="matrix(1.036 0 0 1.003 821.33 1071.69)" x="0" y="0" font-size="83" font-weight="bold" font-style="italic">s</text>
<text transform="matrix(0.9421 0 0 1.088 867.03 1039.33)" x="0" y="0" font-size="58" font-weight="bold">−</text>
<text transform="matrix(1.048 0 0 1.027 899.5 1032.8)" x="0" y="0" font-size="60" font-weight="bold" clip-path="url(#k4)">1 </text>
<text transform="matrix(0.9263 0 0 0.9245 960.14 1073.7)" x="0" y="0" font-size="74" font-weight="bold" stroke="#666666" stroke-width="2" stroke-linejoin="miter" vector-effect="non-scaling-stroke">× </text>
<text transform="matrix(0.957 0 0 1 1028.09 1071.4)" x="0 46.06" y="0" font-size="86.6" font-weight="bold" clip-path="url(#k5)">10</text>
<text transform="matrix(0.9981 0 0 1.003 1118.53 1032.8)" x="0" y="0" font-size="60" font-weight="bold">7</text>
<text transform="matrix(0.8342 0 0 0.9711 1155.42 1070.78)" x="0" y="0" font-size="77" font-weight="bold" stroke="#666666" stroke-width="2" stroke-linejoin="miter" vector-effect="non-scaling-stroke">]</text>
<text transform="matrix(0 -1 1 0 87.9 856.1)" x="-5.37 49.5" y="0" font-size="83" font-weight="bold"><tspan font-size="87.1" textLength="53.5" lengthAdjust="spacingAndGlyphs">E</tspan>igenvalue </text>
<text transform="matrix(0 -0.8244 0.9781 0 86.97 397.36)" x="0" y="0" font-size="77" font-weight="bold" stroke="#666666" stroke-width="2" stroke-linejoin="miter" vector-effect="non-scaling-stroke">[</text>
<text transform="matrix(0 -1.036 1.003 0 88.19 373.77)" x="0" y="0" font-size="83" font-weight="bold" font-style="italic">s</text>
<text transform="matrix(0 -0.9421 1.119 0 55.94 328.07)" x="0" y="0" font-size="58" font-weight="bold">−</text>
<text transform="matrix(0 -1.048 1.027 0 49.3 295.6)" x="0" y="0" font-size="60" font-weight="bold" clip-path="url(#k6)">1 </text>
<text transform="matrix(0 -0.9263 0.9245 0 90.2 234.96)" x="0" y="0" font-size="74" font-weight="bold" stroke="#666666" stroke-width="2" stroke-linejoin="miter" vector-effect="non-scaling-stroke">× </text>
<text transform="matrix(0 -0.957 1 0 87.9 167.01)" x="0 46.06" y="0" font-size="86.6" font-weight="bold" clip-path="url(#k7)">10</text>
<text transform="matrix(0 -0.9981 1.003 0 49.3 76.57)" x="0" y="0" font-size="60" font-weight="bold">7</text>
<text transform="matrix(0 -0.8342 0.9781 0 86.97 39.68)" x="0" y="0" font-size="77" font-weight="bold" stroke="#666666" stroke-width="2" stroke-linejoin="miter" vector-effect="non-scaling-stroke">]</text>
</g>
</svg>
</body>
</html>
